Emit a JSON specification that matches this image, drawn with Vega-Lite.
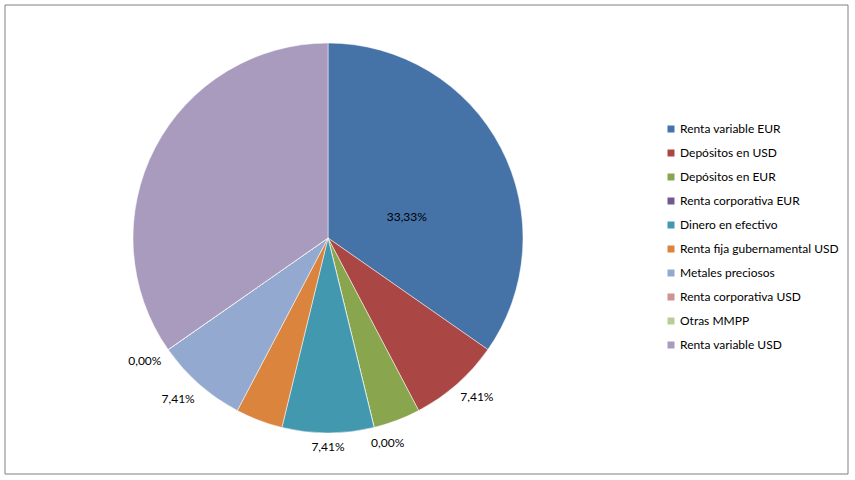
{
  "$schema": "https://vega.github.io/schema/vega-lite/v6.json",
  "width": 843,
  "height": 469,
  "padding": {"left": 5, "top": 5, "right": 7, "bottom": 6},
  "autosize": {"type": "none"},
  "background": "white",
  "config": {"view": {"stroke": null}, "font": "Lato"},
  "data": {
    "values": [
      {"idx": 1, "category": "Renta variable EUR", "value": 34.7, "label": "33,33%"},
      {"idx": 2, "category": "Depósitos en USD", "value": 7.6, "label": "7,41%"},
      {"idx": 3, "category": "Depósitos en EUR", "value": 3.9, "label": ""},
      {"idx": 4, "category": "Renta corporativa EUR", "value": 0, "label": "0,00%"},
      {"idx": 5, "category": "Dinero en efectivo", "value": 7.6, "label": "7,41%"},
      {"idx": 6, "category": "Renta fija gubernamental USD", "value": 3.9, "label": ""},
      {"idx": 7, "category": "Metales preciosos", "value": 7.6, "label": "7,41%"},
      {"idx": 8, "category": "Renta corporativa USD", "value": 0, "label": "0,00%"},
      {"idx": 9, "category": "Otras MMPP", "value": 0, "label": ""},
      {"idx": 10, "category": "Renta variable USD", "value": 34.7, "label": ""}
    ]
  },
  "layer": [
    {
      "data": {"values": [{"frame": 1}]},
      "mark": {"type": "rect", "fill": null, "stroke": "#808080", "strokeWidth": 1},
      "encoding": {}
    },
    {
      "mark": {"type": "arc", "outerRadius": 195, "x": 323, "y": 233, "stroke": "#ffffff", "strokeWidth": 0.5},
      "encoding": {
        "theta": {"field": "value", "type": "quantitative", "stack": true},
        "order": {"field": "idx", "type": "quantitative"},
        "color": {
          "field": "category",
          "type": "nominal",
          "sort": null,
          "scale": {
            "domain": ["Renta variable EUR", "Depósitos en USD", "Depósitos en EUR", "Renta corporativa EUR", "Dinero en efectivo", "Renta fija gubernamental USD", "Metales preciosos", "Renta corporativa USD", "Otras MMPP", "Renta variable USD"],
            "range": ["#4572A7", "#AA4643", "#89A54E", "#71588F", "#4198AF", "#DB843D", "#93A9CF", "#D19392", "#B9CD96", "#A99BBD"]
          },
          "legend": {
            "orient": "none",
            "legendX": 660,
            "legendY": 118,
            "title": null,
            "symbolType": "square",
            "symbolSize": 49,
            "symbolStrokeWidth": 0,
            "labelFontSize": 12,
            "labelFont": "Lato",
            "labelColor": "#000000",
            "labelLimit": 300,
            "labelOffset": 3,
            "rowPadding": 12,
            "padding": 0
          }
        }
      }
    },
    {
      "mark": {"type": "text", "radius": 210, "x": 323, "y": 233, "dx": 10, "dy": 1, "fontSize": 12, "font": "Lato", "color": "#000000"},
      "encoding": {
        "theta": {"field": "value", "type": "quantitative", "stack": true},
        "order": {"field": "idx", "type": "quantitative"},
        "text": {"condition": {"test": "datum.idx == 2 || datum.idx == 4", "field": "label", "type": "nominal"}, "value": ""}
      }
    },
    {
      "mark": {"type": "text", "radius": 210, "x": 323, "y": 233, "dx": 0, "dy": -1, "fontSize": 12, "font": "Lato", "color": "#000000"},
      "encoding": {
        "theta": {"field": "value", "type": "quantitative", "stack": true},
        "order": {"field": "idx", "type": "quantitative"},
        "text": {"condition": {"test": "datum.idx == 5", "field": "label", "type": "nominal"}, "value": ""}
      }
    },
    {
      "mark": {"type": "text", "radius": 210, "x": 323, "y": 233, "dx": -11, "dy": 3, "fontSize": 12, "font": "Lato", "color": "#000000"},
      "encoding": {
        "theta": {"field": "value", "type": "quantitative", "stack": true},
        "order": {"field": "idx", "type": "quantitative"},
        "text": {"condition": {"test": "datum.idx == 7 || datum.idx == 8", "field": "label", "type": "nominal"}, "value": ""}
      }
    },
    {
      "mark": {"type": "text", "radius": 81, "x": 323, "y": 233, "dx": 7, "dy": 16, "fontSize": 12, "font": "Lato", "color": "#000000"},
      "encoding": {
        "theta": {"field": "value", "type": "quantitative", "stack": true},
        "order": {"field": "idx", "type": "quantitative"},
        "text": {"condition": {"test": "datum.idx == 1", "field": "label", "type": "nominal"}, "value": ""}
      }
    }
  ]
}
